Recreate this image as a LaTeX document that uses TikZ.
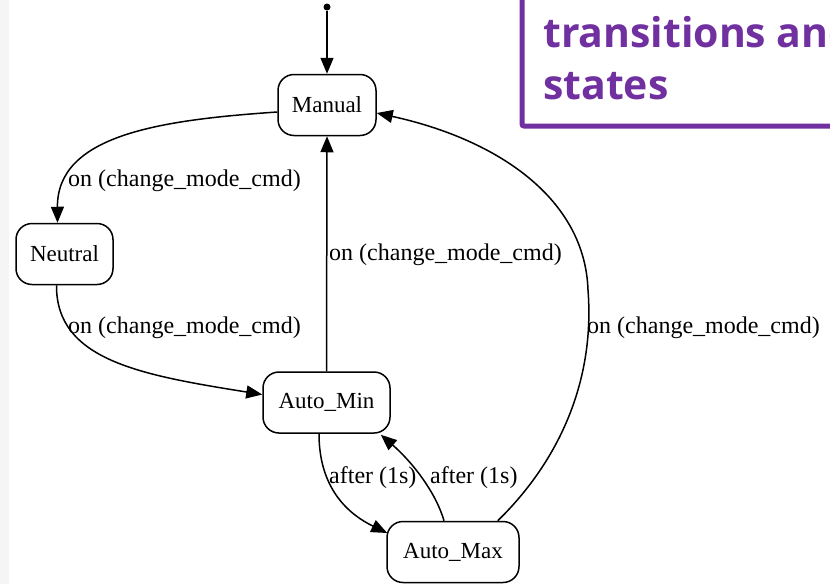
\documentclass[tikz,border=0pt]{standalone}
\usepackage{fontspec}
\setmainfont{Liberation Serif}
\newfontfamily\headfont{Open Sans}
\usetikzlibrary{arrows.meta}
\definecolor{headpurple}{RGB}{112,48,160}
\definecolor{edgegray}{RGB}{245,245,245}

\begin{document}
\begin{tikzpicture}[x=1pt,y=-1pt,
  state/.style={draw, line width=1.5pt, rounded corners=16pt,
    minimum height=61pt, inner sep=0pt, font=\fontsize{23}{27}\selectfont},
  trans/.style={line width=1.5pt, -{Triangle[length=16pt,width=13pt]}},
  lbl/.style={anchor=base west, inner sep=0pt, font=\fontsize{24}{28}\selectfont},
  head/.style={anchor=base west, inner sep=0pt, text=headpurple,
    font=\headfont\bfseries\fontsize{41}{52}\selectfont}]

\useasboundingbox (0,0) rectangle (830,584);
\clip (0,0) rectangle (830,584);
\fill[edgegray] (0,0) rectangle (9,584);

% title frame in the corner
\draw[headpurple, line width=5pt, rounded corners=2pt] (522,-20) -- (522,126) -- (850,126);
\node[head] (title1) at (543,47) {transitions and};
\node[head] (title2) at (543,99) {states};

% states
\node[state, minimum width=98pt]  (man)  at (327,105)   {Manual};
\node[state, minimum width=97pt]  (neu)  at (64.5,254)  {Neutral};
\node[state, minimum width=127pt] (amin) at (326.5,402.5) {Auto\_Min};
\node[state, minimum width=132pt] (amax) at (453,552)   {Auto\_Max};

% initial pseudo-state
\node[circle, fill, inner sep=0pt, minimum size=7pt] (init) at (327,7) {};
\draw[trans] (init) -- (man.north);

% transitions
\draw[trans] ([yshift=-7pt]man.west) .. controls (160,120) and (57,135) .. ([xshift=-7pt]neu.north);
\node[lbl] (l1) at (68,186) {on (change\_mode\_cmd)};

\draw[trans] ([xshift=-8pt]neu.south) .. controls (56,360) and (140,375) .. ([yshift=8pt]amin.west);
\node[lbl] (l2) at (68,333) {on (change\_mode\_cmd)};

\draw[trans] (amin.north) -- (man.south);
\node[lbl] (l3) at (329,260) {on (change\_mode\_cmd)};

\draw[trans] ([xshift=-7.5pt]amin.south) .. controls (319,490) and (350,515) .. ([xshift=1pt,yshift=19pt]amax.west);
\node[lbl] (l4) at (329,483) {after (1s)};

\draw[trans] ([xshift=-9pt]amax.north) .. controls (435,490) and (410,460) .. ([xshift=-10pt,yshift=-1pt]amin.south east);
\node[lbl] (l5) at (430,483) {after (1s)};

\draw[trans] ([xshift=-22pt]amax.north east) .. controls (560,460) and (595,380) .. (588,290)
  .. controls (585,200) and (500,140) .. ([yshift=-8pt]man.east);
\node[lbl] (l6) at (587,333) {on (change\_mode\_cmd)};

\end{tikzpicture}
\end{document}
